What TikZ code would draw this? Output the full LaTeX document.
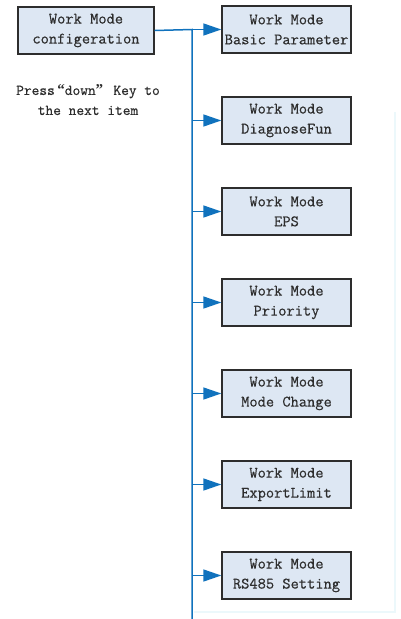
\documentclass[tikz,border=0pt]{standalone}
\usepackage{fontspec}
\newfontfamily\menufont{Latin Modern Mono}[FakeBold=0.5]
\newfontfamily\quotefont{Liberation Serif}
\usetikzlibrary{arrows.meta}
\definecolor{boxfill}{RGB}{221,231,243}
\definecolor{boxdraw}{RGB}{45,45,45}
\definecolor{linkblue}{RGB}{16,114,189}
\definecolor{txt}{RGB}{45,45,45}
\definecolor{faint}{RGB}{236,248,251}
\begin{document}
\begin{tikzpicture}[x=1pt,y=-1pt,
  menubox/.style={draw=boxdraw,fill=boxfill,line width=1.4pt,minimum height=47pt,
    inner sep=0pt,align=center,text=txt,
    font=\menufont\bfseries\fontsize{16}{20}\selectfont},
  link/.style={draw=linkblue,line width=1.5pt},
  linkarrow/.style={link,-{Triangle[length=18pt,width=12pt]}},
  note/.style={align=center,text=txt,font=\menufont\bfseries\fontsize{15}{20}\selectfont}]
\useasboundingbox (0,0) rectangle (401,619);
\fill[white] (0,0) rectangle (401,619);
\draw[faint,line width=1.5pt] (395,112) -- (395,612) -- (194,612);
\node[menubox,minimum width=136pt] (root) at (86,30.5) {Work Mode\\configeration};
\node[note] (hint) at (88,100) {Press{\quotefont\,“}down{\quotefont”\,}\ Key to\\the next item};
\foreach \i/\t in {0/Basic Parameter,1/DiagnoseFun,2/EPS,3/Priority,4/Mode Change,5/ExportLimit,6/RS485 Setting}{
  \node[menubox,minimum width=129pt] (m\i) at (286.5,{29.5+91*\i}) {Work Mode\\\t};
}
\coordinate (top) at (192,29.5);
\coordinate (bottom) at (192,619);
\draw[link] (root.east) -- (top) -- (bottom);
\foreach \i in {0,...,6}{
  \draw[linkarrow] (top |- m\i.west) -- (m\i.west);
}
\end{tikzpicture}
\end{document}
